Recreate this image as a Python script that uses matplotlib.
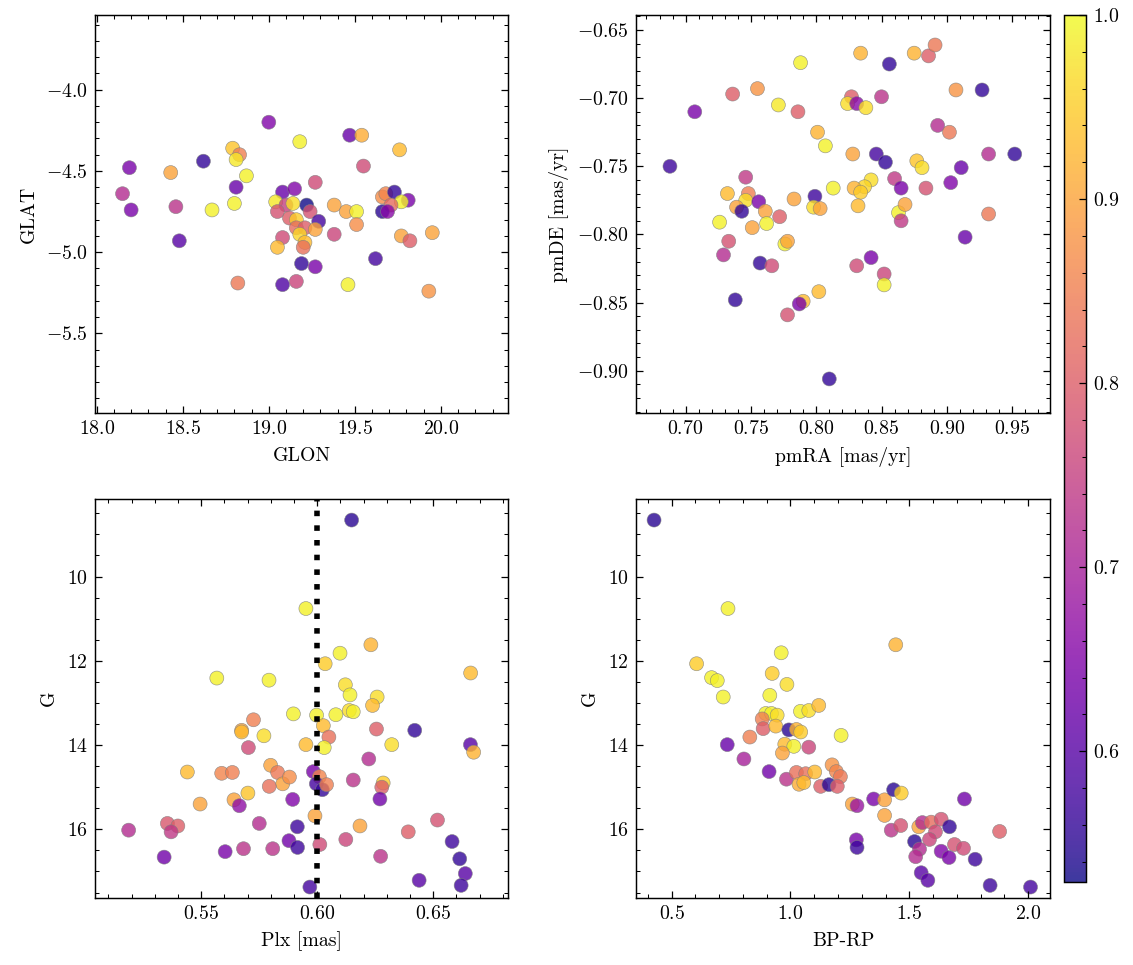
import matplotlib
matplotlib.use("Agg")
import matplotlib.pyplot as plt
from matplotlib.ticker import MultipleLocator
import numpy as np

# --- positions (GLON / GLAT) ---
glon = [19.00, 18.19, 18.15, 18.20, 18.43, 18.46, 18.48, 18.62, 18.67, 18.79, 18.83, 18.81, 18.87,
        18.81, 18.80, 18.82, 19.18, 19.47, 19.54, 19.76, 19.55, 19.27, 19.08, 19.15, 19.04, 19.10,
        19.22, 19.14, 19.05, 19.12, 19.16, 19.24, 19.29, 19.16, 19.21, 19.27, 19.18, 19.08, 19.05,
        19.21, 19.20, 19.19, 19.27, 19.08, 19.16, 19.38, 19.45, 19.51, 19.51, 19.38, 19.46, 19.62,
        19.66, 19.68, 19.73, 19.81, 19.77, 19.71, 19.66, 19.69, 19.77, 19.82, 19.95, 19.93]
glat = [-4.20, -4.48, -4.64, -4.74, -4.51, -4.72, -4.93, -4.44, -4.74, -4.36, -4.40, -4.43, -4.53,
        -4.60, -4.70, -5.19, -4.32, -4.28, -4.28, -4.37, -4.47, -4.57, -4.63, -4.61, -4.69, -4.71,
        -4.71, -4.70, -4.75, -4.79, -4.80, -4.75, -4.81, -4.85, -4.85, -4.86, -4.89, -4.91, -4.97,
        -4.94, -4.97, -5.07, -5.09, -5.20, -5.18, -4.71, -4.75, -4.75, -4.83, -4.89, -5.20, -5.04,
        -4.66, -4.64, -4.63, -4.68, -4.69, -4.71, -4.75, -4.75, -4.90, -4.93, -4.88, -5.24]
prob_pos = [0.65, 0.64, 0.72, 0.64, 0.90, 0.73, 0.60, 0.56, 0.99, 0.94, 0.85, 0.98, 0.99,
            0.62, 0.99, 0.84, 0.99, 0.62, 0.91, 0.93, 0.77, 0.77, 0.62, 0.65, 0.98, 0.75,
            0.53, 0.97, 0.78, 0.80, 0.95, 0.78, 0.58, 0.82, 0.80, 0.90, 0.96, 0.77, 0.93,
            0.93, 0.83, 0.56, 0.64, 0.59, 0.76, 0.90, 0.90, 0.99, 0.87, 0.76, 0.99, 0.58,
            0.87, 0.86, 0.56, 0.64, 0.99, 0.82, 0.55, 0.66, 0.90, 0.80, 0.90, 0.88]

# --- proper motions ---
pmra = [0.688, 0.707, 0.736, 0.755, 0.788, 0.771, 0.786, 0.801, 0.807, 0.834, 0.856, 0.875, 0.886,
        0.891, 0.907, 0.927, 0.827, 0.824, 0.831, 0.838, 0.850, 0.893, 0.902, 0.932, 0.952, 0.828,
        0.846, 0.853, 0.877, 0.881, 0.911, 0.903, 0.842, 0.837, 0.860, 0.865, 0.884, 0.829, 0.834,
        0.813, 0.799, 0.832, 0.798, 0.803, 0.863, 0.868, 0.865, 0.932, 0.914, 0.732, 0.746, 0.748,
        0.746, 0.739, 0.743, 0.756, 0.761, 0.762, 0.772, 0.783, 0.726, 0.751, 0.733, 0.729, 0.776,
        0.778, 0.757, 0.766, 0.831, 0.842, 0.852, 0.852, 0.802, 0.738, 0.790, 0.787, 0.778, 0.810]
pmde = [-0.750, -0.710, -0.697, -0.693, -0.674, -0.705, -0.710, -0.725, -0.735, -0.667, -0.675,
        -0.667, -0.669, -0.661, -0.694, -0.694, -0.699, -0.704, -0.704, -0.707, -0.699, -0.720,
        -0.725, -0.741, -0.741, -0.741, -0.741, -0.747, -0.746, -0.751, -0.751, -0.762, -0.760,
        -0.765, -0.759, -0.766, -0.766, -0.766, -0.769, -0.766, -0.772, -0.779, -0.780, -0.781,
        -0.784, -0.778, -0.790, -0.785, -0.802, -0.770, -0.758, -0.770, -0.775, -0.780, -0.783,
        -0.776, -0.783, -0.792, -0.787, -0.774, -0.791, -0.795, -0.805, -0.815, -0.807, -0.805,
        -0.821, -0.823, -0.823, -0.817, -0.829, -0.837, -0.842, -0.848, -0.849, -0.851, -0.859,
        -0.906]
prob_pm = [0.57, 0.64, 0.80, 0.88, 0.99, 0.98, 0.80, 0.92, 0.99, 0.92, 0.56, 0.92, 0.80,
           0.84, 0.88, 0.56, 0.80, 0.97, 0.66, 0.97, 0.73, 0.72, 0.84, 0.72, 0.56, 0.90,
           0.58, 0.56, 0.94, 0.97, 0.62, 0.65, 0.97, 0.96, 0.74, 0.64, 0.78, 0.92, 0.95,
           0.99, 0.57, 0.93, 0.97, 0.90, 0.99, 0.90, 0.74, 0.84, 0.62, 0.93, 0.74, 0.85,
           0.97, 0.90, 0.56, 0.64, 0.90, 0.99, 0.80, 0.90, 0.99, 0.90, 0.78, 0.72, 0.99,
           0.90, 0.56, 0.77, 0.77, 0.64, 0.76, 0.99, 0.93, 0.56, 0.93, 0.64, 0.78, 0.56]

# --- parallax vs G ---
plx = [0.6148, 0.5951, 0.6231, 0.6098, 0.6034, 0.6661, 0.5567, 0.5792, 0.6121, 0.6141, 0.6258,
       0.6238, 0.5897, 0.5997, 0.6080, 0.6138, 0.6155, 0.5725, 0.5674, 0.5674, 0.5770, 0.6026,
       0.6050, 0.6255, 0.6420, 0.5951, 0.6030, 0.6321, 0.5703, 0.6660, 0.6674, 0.5440, 0.5588,
       0.5634, 0.5799, 0.5829, 0.5851, 0.5880, 0.5793, 0.6222, 0.5983, 0.6009, 0.5996, 0.6022,
       0.6040, 0.6155, 0.6284, 0.6278, 0.6270, 0.5894, 0.5701, 0.5641, 0.5664, 0.5495, 0.5990,
       0.6184, 0.5750, 0.5354, 0.5399, 0.5370, 0.5187, 0.5914, 0.6392, 0.6518, 0.5878, 0.5915,
       0.6011, 0.6123, 0.5603, 0.5682, 0.5808, 0.5340, 0.6273, 0.6581, 0.6614, 0.6638, 0.6439,
       0.6620, 0.5968]
g_plx = [8.66, 10.76, 11.62, 11.82, 12.07, 12.29, 12.41, 12.46, 12.57, 12.81, 12.86, 13.06, 13.26,
         13.29, 13.28, 13.18, 13.21, 13.40, 13.65, 13.69, 13.78, 13.54, 13.81, 13.62, 13.65, 13.99,
         14.06, 13.99, 14.06, 13.99, 14.17, 14.64, 14.67, 14.65, 14.48, 14.65, 14.92, 14.76, 14.98,
         14.33, 14.63, 14.75, 14.92, 15.06, 14.94, 14.83, 14.90, 15.00, 15.28, 15.29, 15.14, 15.30,
         15.44, 15.40, 15.68, 15.92, 15.86, 15.86, 15.92, 16.06, 16.02, 15.94, 16.06, 15.78, 16.27,
         16.43, 16.36, 16.24, 16.53, 16.46, 16.46, 16.66, 16.64, 16.29, 16.70, 17.05, 17.21, 17.33,
         17.37]
prob_plx = [0.55, 0.99, 0.92, 0.99, 0.95, 0.93, 0.99, 0.99, 0.97, 0.99, 0.97, 0.93, 0.99,
            0.99, 0.99, 0.97, 0.99, 0.85, 0.90, 0.93, 0.97, 0.93, 0.83, 0.80, 0.56, 0.93,
            0.99, 0.97, 0.77, 0.60, 0.92, 0.93, 0.86, 0.85, 0.90, 0.84, 0.90, 0.87, 0.83,
            0.72, 0.64, 0.86, 0.58, 0.56, 0.85, 0.73, 0.95, 0.80, 0.63, 0.65, 0.94, 0.90,
            0.67, 0.90, 0.90, 0.90, 0.72, 0.79, 0.80, 0.74, 0.72, 0.57, 0.80, 0.78, 0.63,
            0.57, 0.77, 0.76, 0.64, 0.73, 0.73, 0.63, 0.73, 0.57, 0.56, 0.60, 0.60, 0.57,
            0.58]
plx_ref = 0.6

# --- colour-magnitude ---
bprp = [0.426, 0.737, 1.443, 0.605, 0.961, 0.923, 0.985, 0.668, 0.692, 0.717, 0.913, 0.896, 0.920,
        0.944, 1.042, 1.077, 1.119, 0.881, 0.885, 0.938, 0.993, 1.025, 1.043, 1.213, 0.829, 0.734,
        0.976, 1.014, 0.966, 1.077, 0.804, 0.910, 0.983, 1.025, 1.064, 1.102, 1.036, 1.056, 1.127,
        1.162, 1.175, 1.193, 1.210, 1.197, 1.260, 1.280, 1.350, 1.396, 1.434, 1.466, 1.396, 1.424,
        1.464, 1.277, 1.280, 1.540, 1.555, 1.592, 1.634, 1.610, 1.585, 1.669, 1.522, 1.543, 1.527,
        1.634, 1.667, 1.690, 1.728, 1.732, 1.880, 1.777, 1.550, 1.578, 1.840, 2.010]
g_cmd = [8.66, 10.76, 11.62, 12.07, 11.81, 12.30, 12.56, 12.40, 12.47, 12.86, 12.82, 13.25, 13.25,
         13.29, 13.20, 13.18, 13.06, 13.38, 13.61, 13.55, 13.64, 13.63, 13.69, 13.77, 13.81, 13.99,
         13.98, 14.03, 14.19, 14.05, 14.33, 14.63, 14.81, 14.65, 14.68, 14.64, 14.93, 14.89, 14.98,
         14.94, 14.47, 14.63, 14.75, 14.98, 15.40, 15.44, 15.28, 15.30, 15.06, 15.14, 15.67, 16.02,
         15.91, 16.25, 16.43, 15.94, 15.84, 15.83, 15.76, 16.06, 16.24, 15.94, 16.29, 16.47, 16.65,
         16.52, 16.67, 16.36, 16.45, 15.28, 16.05, 16.71, 17.03, 17.21, 17.33, 17.37]
prob_cmd = [0.55, 0.99, 0.92, 0.95, 0.99, 0.95, 0.97, 0.99, 0.99, 0.99, 0.99, 0.99, 0.99,
            0.97, 0.99, 0.97, 0.93, 0.85, 0.80, 0.93, 0.55, 0.92, 0.95, 0.99, 0.85, 0.62,
            0.93, 0.99, 0.90, 0.76, 0.70, 0.63, 0.73, 0.83, 0.83, 0.93, 0.91, 0.93, 0.80,
            0.55, 0.88, 0.86, 0.84, 0.80, 0.90, 0.68, 0.64, 0.90, 0.55, 0.95, 0.90, 0.73,
            0.78, 0.64, 0.57, 0.90, 0.72, 0.82, 0.78, 0.77, 0.76, 0.56, 0.55, 0.72, 0.72,
            0.65, 0.64, 0.78, 0.77, 0.63, 0.80, 0.57, 0.60, 0.60, 0.57, 0.58]

vmin, vmax = 0.529, 1.0

plt.rcParams.update({
    "font.family": "serif",
    "font.serif": ["cmr10", "DejaVu Serif"],
    "mathtext.fontset": "cm",
    "axes.formatter.use_mathtext": True,
    "font.size": 9.5,
    "axes.linewidth": 0.7,
    "xtick.direction": "in",
    "ytick.direction": "in",
    "xtick.top": True,
    "ytick.right": True,
    "xtick.minor.visible": True,
    "ytick.minor.visible": True,
    "xtick.major.size": 3.4,
    "ytick.major.size": 3.4,
    "xtick.minor.size": 2.0,
    "ytick.minor.size": 2.0,
    "xtick.major.width": 0.6,
    "ytick.major.width": 0.6,
    "xtick.minor.width": 0.5,
    "ytick.minor.width": 0.5,
})

fig = plt.figure(figsize=(1133 / 150, 965 / 150), dpi=150)
W, H = 1133, 965
def box(x0, y0, x1, y1):
    return [x0 / W, 1 - y1 / H, (x1 - x0) / W, (y1 - y0) / H]

ax1 = fig.add_axes(box(95, 15, 508, 413))
ax2 = fig.add_axes(box(636, 15, 1050, 413))
ax3 = fig.add_axes(box(95, 499, 508, 898))
ax4 = fig.add_axes(box(636, 499, 1050, 898))
cax = fig.add_axes(box(1064, 15, 1086, 882))

kw = dict(cmap="plasma", vmin=vmin, vmax=vmax, s=45, alpha=0.8,
          edgecolors="gray", linewidths=0.3)

sc = ax1.scatter(glon, glat, c=prob_pos, **kw)
ax1.set_xlim(17.99, 20.39)
ax1.set_ylim(-5.99, -3.54)
ax1.set_xlabel("GLON")
ax1.set_ylabel("GLAT")

ax2.scatter(pmra, pmde, c=prob_pm, **kw)
ax2.set_xlim(0.662, 0.979)
ax2.set_ylim(-0.931, -0.639)
ax2.xaxis.set_major_locator(MultipleLocator(0.05))
ax2.xaxis.set_minor_locator(MultipleLocator(0.01))
ax2.set_xlabel("pmRA [mas/yr]")
ax2.set_ylabel("pmDE [mas/yr]")

ax3.scatter(plx, g_plx, c=prob_plx, **kw)
ax3.axvline(plx_ref, color="black", ls=":", lw=2.66)
ax3.set_xlim(0.5042, 0.6822)
ax3.set_ylim(17.63, 8.16)
ax3.set_xlabel("Plx [mas]")
ax3.set_ylabel("G")

ax4.scatter(bprp, g_cmd, c=prob_cmd, **kw)
ax4.set_xlim(0.35, 2.092)
ax4.set_ylim(17.63, 8.16)
ax4.set_xlabel("BP-RP")
ax4.set_ylabel("G")

cb = fig.colorbar(sc, cax=cax)
cb.solids.set_alpha(0.8)
cb.minorticks_on()
cb.ax.tick_params(which="both", direction="in", left=False, right=True)
cb.outline.set_linewidth(0.7)

fig.savefig("out.png", dpi=150)
